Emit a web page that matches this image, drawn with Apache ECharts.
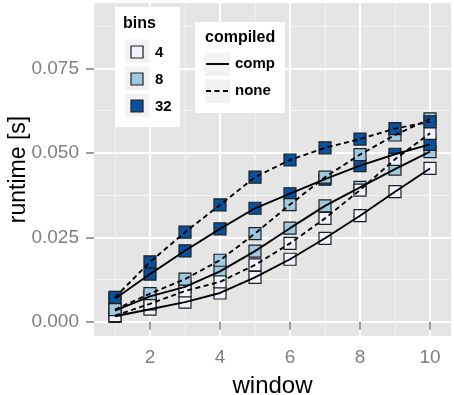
<!DOCTYPE html>
<html><head><meta charset="utf-8">
<script src="https://cdn.jsdelivr.net/npm/echarts@6/dist/echarts.min.js"></script>
<style>html,body{margin:0;padding:0;background:#fff}#c{width:454px;height:395px}</style>
</head><body><div id="c"></div>
<script>
// ---- data ----
const windows = [1, 2, 3, 4, 5, 6, 7, 8, 9, 10];
const comp4  = [0.0016, 0.0037, 0.0058, 0.0085, 0.0131, 0.0185, 0.0247, 0.0314, 0.0385, 0.0454];
const comp8  = [0.0033, 0.0075, 0.0103, 0.0149, 0.0209, 0.0277, 0.0343, 0.0398, 0.0452, 0.0504];
const comp32 = [0.0068, 0.0141, 0.0210, 0.0275, 0.0336, 0.0379, 0.0422, 0.0462, 0.0496, 0.0525];
const none4  = [0.0018, 0.0053, 0.0091, 0.0118, 0.0168, 0.0232, 0.0306, 0.0390, 0.0481, 0.0558];
const none8  = [0.0036, 0.0083, 0.0126, 0.0182, 0.0261, 0.0347, 0.0428, 0.0495, 0.0553, 0.0601];
const none32 = [0.0072, 0.0177, 0.0265, 0.0346, 0.0428, 0.0479, 0.0515, 0.0541, 0.0572, 0.0592];
const binLevels = ['4', '8', '32'];
const compiledLevels = ['comp', 'none'];
const xTicks = [2, 4, 6, 8, 10];
const xMinor = [1, 3, 5, 7, 9];
const yTicks = [0, 0.025, 0.05, 0.075];
const yMinor = [0.0125, 0.0375, 0.0625, 0.0875];

// ---- styles ----
const binColors = ['#EEF3FD', '#9ECAE1', '#08519C'];
const FONT = 'Liberation Sans, Arial, Helvetica, sans-serif';
const X_MIN = 0.4, X_MAX = 10.6, Y_MIN = -0.00424, Y_MAX = 0.0944;

const groups = [
  {vals: comp4, bin: 0, comp: 0}, {vals: comp8, bin: 1, comp: 0}, {vals: comp32, bin: 2, comp: 0},
  {vals: none4, bin: 0, comp: 1}, {vals: none8, bin: 1, comp: 1}, {vals: none32, bin: 2, comp: 1}
];
const toData = arr => windows.map((w, i) => [w, arr[i]]);

const series = [];
groups.forEach(g => {
  series.push({
    type: 'scatter', name: binLevels[g.bin] + ' ' + compiledLevels[g.comp],
    xAxisIndex: 1, yAxisIndex: 1, z: 2,
    symbol: 'rect', symbolSize: 12,
    itemStyle: {color: binColors[g.bin], borderColor: '#1e1e1e', borderWidth: 1.2, opacity: 1},
    data: toData(g.vals), silent: true
  });
});
groups.forEach(g => {
  series.push({
    type: 'line', xAxisIndex: 1, yAxisIndex: 1, z: 3,
    showSymbol: false, symbol: 'none', smooth: false,
    lineStyle: {color: '#000', width: 1.9, type: g.comp === 0 ? 'solid' : [5, 3.5]},
    data: toData(g.vals), silent: true
  });
});

const graphic = [];
// bins legend
graphic.push({type: 'rect', z: 100, shape: {x: 115, y: 7, width: 65, height: 120}, style: {fill: '#fff'}});
graphic.push({type: 'text', z: 101, x: 123, y: 24, style: {text: 'bins', font: 'bold 16px ' + FONT, fill: '#000', verticalAlign: 'middle'}});
binLevels.forEach((b, i) => {
  graphic.push({type: 'rect', z: 101, shape: {x: 125, y: 39.5 + 27 * i, width: 24, height: 23.5}, style: {fill: '#F2F2F2'}});
  graphic.push({type: 'rect', z: 102, shape: {x: 131, y: 46 + 27 * i, width: 12, height: 12}, style: {fill: binColors[i], stroke: '#1e1e1e', lineWidth: 1.2}});
  graphic.push({type: 'text', z: 102, x: 155, y: 52.5 + 27 * i, style: {text: b, font: 'bold 15px ' + FONT, fill: '#000', verticalAlign: 'middle'}});
});
// compiled legend
graphic.push({type: 'rect', z: 100, shape: {x: 195, y: 22, width: 90, height: 91}, style: {fill: '#fff'}});
graphic.push({type: 'text', z: 101, x: 205, y: 38, style: {text: 'compiled', font: 'bold 16px ' + FONT, fill: '#000', verticalAlign: 'middle'}});
compiledLevels.forEach((c, i) => {
  graphic.push({type: 'rect', z: 101, shape: {x: 205, y: 52.5 + 27 * i, width: 25, height: 23.5}, style: {fill: '#F2F2F2'}});
  graphic.push({type: 'line', z: 102, shape: {x1: 206, y1: 64 + 27 * i, x2: 229, y2: 64 + 27 * i},
    style: {stroke: '#000', lineWidth: 1.9, lineDash: i === 0 ? null : [5, 3.5]}});
  graphic.push({type: 'text', z: 102, x: 235, y: 64 + 27 * i, style: {text: c, font: 'bold 15px ' + FONT, fill: '#000', verticalAlign: 'middle'}});
});

const chart = echarts.init(document.getElementById('c'), null, {renderer: 'canvas'});
chart.setOption({
  animation: false,
  backgroundColor: '#fff',
  grid: {show: true, left: 94, right: 3, top: 3, bottom: 59, backgroundColor: '#E5E5E5', borderWidth: 0,
         containLabel: false, outerBoundsMode: 'none'},
  xAxis: [
    {type: 'value', position: 'bottom', min: X_MIN, max: X_MAX, axisLine: {show: false}, axisLabel: {show: false},
     axisTick: {show: false, customValues: xMinor}, splitLine: {show: true, lineStyle: {color: '#F2F2F2', width: 1}}},
    {type: 'value', position: 'bottom', min: X_MIN, max: X_MAX, axisLine: {show: false},
     axisTick: {show: true, customValues: xTicks, length: 8, lineStyle: {color: '#7F7F7F', width: 1.5}},
     axisLabel: {customValues: xTicks, color: '#7F7F7F', fontSize: 19, fontFamily: FONT, margin: 12},
     splitLine: {show: true, lineStyle: {color: '#fff', width: 2}},
     name: 'window', nameLocation: 'middle', nameGap: 38, nameMoveOverlap: false,
     nameTextStyle: {fontSize: 24, color: '#000', fontFamily: FONT}}
  ],
  yAxis: [
    {type: 'value', position: 'left', min: Y_MIN, max: Y_MAX, axisLine: {show: false}, axisLabel: {show: false},
     axisTick: {show: false, customValues: yMinor}, splitLine: {show: true, lineStyle: {color: '#F2F2F2', width: 1}}},
    {type: 'value', position: 'left', min: Y_MIN, max: Y_MAX, axisLine: {show: false},
     axisTick: {show: true, customValues: yTicks, length: 8, lineStyle: {color: '#7F7F7F', width: 1.5}},
     axisLabel: {customValues: yTicks, color: '#7F7F7F', fontSize: 19, fontFamily: FONT, margin: 15,
                 formatter: v => v.toFixed(3)},
     splitLine: {show: true, lineStyle: {color: '#fff', width: 2}},
     name: 'runtime [s]', nameLocation: 'middle', nameGap: 64, nameMoveOverlap: false,
     nameTextStyle: {fontSize: 23, color: '#000', fontFamily: FONT}}
  ],
  series: series,
  graphic: graphic
});
</script></body></html>
